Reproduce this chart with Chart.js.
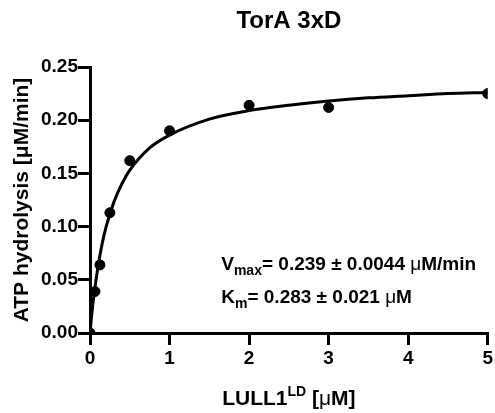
<!DOCTYPE html>
<html>
<head>
<meta charset="utf-8">
<script src="https://cdn.jsdelivr.net/npm/chart.js@4"></script>
<style>
  html, body { margin: 0; padding: 0; background: #fff; }
  #wrap { width: 495px; height: 413px; }
</style>
</head>
<body>
<div id="wrap"><canvas id="kinetics"></canvas></div>
<script>
// measured points: LULL1 concentration (uM) vs ATP hydrolysis (uM/min)
var concentration = [0, 0.0625, 0.125, 0.25, 0.5, 1, 2, 3, 5];
var hydrolysis = [0, 0.039, 0.064, 0.113, 0.162, 0.190, 0.214, 0.212, 0.225];

// fitted curve
var fitX = [0, 0.02, 0.05, 0.1, 0.15, 0.2, 0.3, 0.4, 0.5, 0.75, 1, 1.5, 2, 2.5, 3, 3.5, 4, 4.5, 5];
var fitY = [0, 0.016, 0.036, 0.062, 0.083, 0.099, 0.123, 0.140, 0.153, 0.174, 0.186, 0.201, 0.209, 0.214, 0.218, 0.221, 0.223, 0.225, 0.226];

var yTicks = [0, 0.05, 0.10, 0.15, 0.20, 0.25];
var xTicks = [0, 1, 2, 3, 4, 5];

var FONT = '"Liberation Sans", Arial, sans-serif';

// draws a list of text pieces one after another (for sub/superscripts)
function drawRuns(ctx, runs, x, y, align) {
    var total = 0;
    runs.forEach(function (r) {
        ctx.font = r.font;
        total += ctx.measureText(r.text).width;
    });
    var cx = align === 'center' ? x - total / 2 : x;
    runs.forEach(function (r) {
        ctx.font = r.font;
        ctx.fillText(r.text, cx, y + (r.dy || 0));
        cx += ctx.measureText(r.text).width;
    });
}

var textPlugin = {
    id: 'textPlugin',
    afterDraw: function (chart) {
        var ctx = chart.ctx;
        var xs = chart.scales.x, ys = chart.scales.y;
        var midX = (xs.left + xs.right) / 2;
        ctx.save();
        ctx.fillStyle = '#000';
        ctx.textBaseline = 'alphabetic';
        ctx.textAlign = 'left';

        // title, centred over the plot area
        drawRuns(ctx, [{ text: 'TorA 3xD', font: 'bold 24px ' + FONT }], midX, 28, 'center');

        // x axis title with superscript
        var big = 'bold 21px ' + FONT;
        drawRuns(ctx, [
            { text: 'LULL1', font: big },
            { text: 'LD', font: 'bold 14px ' + FONT, dy: -9 },
            { text: ' [', font: big },
            { text: 'μ', font: '21px ' + FONT },
            { text: 'M]', font: big }
        ], midX, 405, 'center');

        // fit parameters
        var f = 'bold 19px ' + FONT;
        var sub = 'bold 14px ' + FONT;
        var mu = '19px ' + FONT;
        var tx = xs.getPixelForValue(1.65);
        drawRuns(ctx, [
            { text: 'V', font: f },
            { text: 'max', font: sub, dy: 5 },
            { text: '= 0.239 ± 0.0044 ', font: f },
            { text: 'μ', font: mu },
            { text: 'M/min', font: f }
        ], tx, ys.getPixelForValue(0.0595), 'left');
        drawRuns(ctx, [
            { text: 'K', font: f },
            { text: 'm', font: sub, dy: 5 },
            { text: '= 0.283 ± 0.021 ', font: f },
            { text: 'μ', font: mu },
            { text: 'M', font: f }
        ], tx, ys.getPixelForValue(0.0285), 'left');
        ctx.restore();
    }
};

var ctx = document.getElementById('kinetics').getContext('2d');

var chart = new Chart(ctx, {
    type: 'scatter',
    data: {
        datasets: [
            {
                label: 'fit',
                type: 'line',
                data: fitX.map(function (x, i) { return { x: x, y: fitY[i] }; }),
                borderColor: '#000',
                borderWidth: 3,
                pointRadius: 0,
                fill: false,
                cubicInterpolationMode: 'monotone'
            },
            {
                label: 'data',
                data: concentration.map(function (x, i) { return { x: x, y: hydrolysis[i] }; }),
                backgroundColor: '#000',
                borderColor: '#000',
                pointRadius: 5,
                pointHoverRadius: 5
            }
        ]
    },
    options: {
        responsive: true,
        maintainAspectRatio: false,
        animation: false,
        events: [],
        layout: { padding: { left: 0, right: 0, top: 67, bottom: 0 } },
        plugins: {
            legend: { display: false },
            tooltip: { enabled: false },
            title: { display: false }
        },
        scales: {
            x: {
                type: 'linear',
                min: 0,
                max: 5,
                afterBuildTicks: function (s) { s.ticks = xTicks.map(function (v) { return { value: v }; }); },
                afterFit: function (s) { s.height = 80; },
                ticks: {
                    color: '#000',
                    font: { family: FONT, size: 19, weight: 'bold' },
                    padding: 2
                },
                grid: { drawOnChartArea: false, color: '#000', lineWidth: 3, tickLength: 12 },
                border: { color: '#000', width: 3 }
            },
            y: {
                min: 0,
                max: 0.25,
                afterBuildTicks: function (s) { s.ticks = yTicks.map(function (v) { return { value: v }; }); },
                afterFit: function (s) { s.width = 90; },
                ticks: {
                    color: '#000',
                    font: { family: FONT, size: 19, weight: 'bold' },
                    padding: 0,
                    callback: function (v) { return v.toFixed(2); }
                },
                grid: { drawOnChartArea: false, color: '#000', lineWidth: 3, tickLength: 12 },
                border: { color: '#000', width: 3 },
                title: {
                    display: true,
                    text: 'ATP hydrolysis [μM/min]',
                    color: '#000',
                    font: { family: FONT, size: 21, weight: 'bold' },
                    padding: { top: 10, bottom: 0 }
                }
            }
        }
    },
    plugins: [textPlugin]
});
</script>
</body>
</html>
